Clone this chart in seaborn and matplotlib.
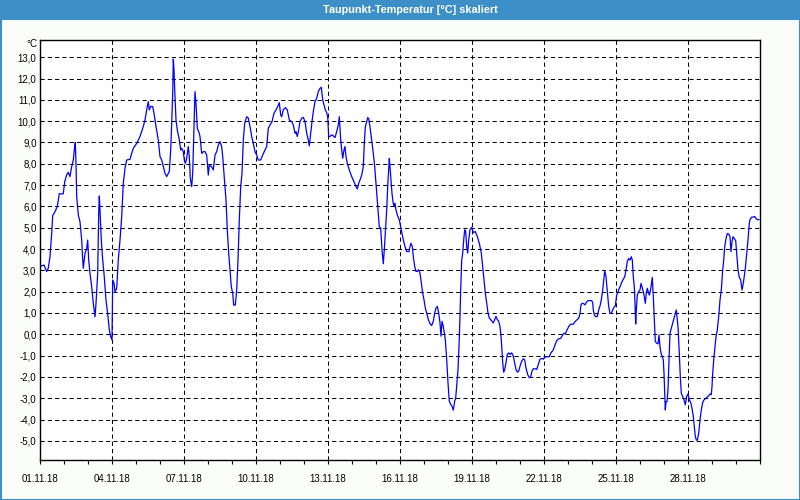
import numpy as np
import pandas as pd
import matplotlib
matplotlib.use("Agg")
import matplotlib.pyplot as plt
import matplotlib.dates as mdates
from matplotlib.patches import Rectangle
from matplotlib.ticker import FuncFormatter, FixedLocator
import seaborn as sns

title = "Taupunkt-Temperatur [°C] skaliert"
unit_label = "°C"
start_date = "2018-11-01 00:00"
end_date = "2018-12-01 00:00"
y_ticks = [-5, -4, -3, -2, -1, 0, 1, 2, 3, 4, 5, 6, 7, 8, 9, 10, 11, 12, 13]
label_days = [1, 4, 7, 10, 13, 16, 19, 22, 25, 28]

# hours since 01.11.18 00:00
hours = [
    1.0, 4.0, 6.7, 8.3, 10.0, 11.7, 12.7, 15.0, 17.3, 19.3, 21.7, 23.3, 24.7, 26.7, 28.3, 30.0,
    31.7, 33.3, 34.3, 35.3, 36.0, 36.7, 38.3, 40.0, 41.7, 42.7, 43.3, 45.0, 46.7, 47.7, 48.7,
    50.0, 51.7, 53.3, 55.0, 56.0, 57.7, 58.7, 59.3, 60.0, 61.3, 62.7, 64.0, 66.0, 68.0, 69.3,
    70.7, 72.0, 72.7, 74.0, 75.0, 76.7, 78.3, 80.0, 81.7, 83.3, 85.0, 86.7, 90.0, 91.7, 93.3,
    96.7, 100.0, 103.3, 105.0, 106.7, 108.3, 109.3, 110.7, 112.7, 114.0, 116.0, 118.3, 120.0,
    121.7, 123.3, 125.0, 126.7, 128.3, 129.3, 130.7, 131.7, 132.7, 133.3, 134.0, 134.7, 136.0,
    137.3, 139.3, 140.7, 141.7, 143.3, 144.3, 145.3, 146.7, 148.3, 149.3, 150.3, 151.7, 152.7,
    154.0, 155.0, 156.0, 157.3, 159.3,
    160.0, 161.7, 163.3, 165.0, 166.7, 168.3, 169.3, 171.7, 173.3, 175.0, 176.7, 178.3, 180.0,
    181.7, 182.7, 184.0, 186.0, 187.3, 188.7, 190.0, 191.3, 192.7, 193.7, 195.3, 196.7, 198.0,
    199.3, 200.7, 202.0, 203.3, 204.7, 206.7, 208.3, 210.0, 211.7, 213.3, 215.0, 216.7, 218.3,
    220.7, 222.7, 225.0, 226.7, 228.3, 230.0, 232.0, 234.0, 236.0, 237.7, 239.3, 240.7, 241.7,
    243.3, 245.3, 247.3, 249.3, 251.7, 253.3, 255.0, 256.0, 257.3, 258.7, 260.0, 261.7, 263.3,
    265.0, 266.7, 268.3, 269.3, 270.7, 272.0, 273.3, 275.0, 276.7, 278.3, 280.0, 281.3, 282.7,
    284.0, 285.3, 286.7, 287.7, 288.7, 290.0, 291.7, 293.3, 295.0, 296.7, 298.3, 299.3, 300.7,
    301.7, 302.7, 304.0, 305.0, 306.0, 307.3, 309.3, 311.7, 314.0, 316.0, 317.3, 318.7,
    320.0, 321.7, 323.3, 324.3, 325.3, 326.7, 327.7, 328.7, 330.0, 331.7, 333.3, 334.7, 336.0,
    337.3, 338.3, 339.3, 340.7, 342.0, 343.3, 344.3, 345.3, 346.7, 347.7, 348.7, 349.3, 350.0,
    351.0, 352.0, 353.0, 354.0, 355.0, 356.0, 357.3, 359.3, 360.7, 362.0, 363.3, 365.0, 366.7,
    369.0, 370.0, 371.0, 372.3, 373.3, 374.7, 376.0, 377.3, 378.7, 380.0, 381.3, 382.7, 384.0,
    385.3, 386.7, 388.3, 390.0, 391.7, 393.3, 394.7, 396.0, 397.3, 398.7, 400.0, 401.0, 402.0,
    403.3, 404.3, 405.3, 406.7, 408.0, 409.3, 410.7, 412.0, 413.3, 414.7, 415.7, 416.7, 418.0,
    419.0, 420.0, 420.7, 421.7, 422.7, 423.7, 424.7, 425.7, 426.7, 427.7, 428.7, 430.0, 431.7,
    433.3, 435.3, 437.3, 439.3, 441.3, 442.7, 444.0, 445.3, 446.7, 448.0, 449.3, 450.7, 452.0,
    453.3, 454.7, 456.0, 457.3, 458.7, 460.0, 461.3, 462.7, 463.7, 464.7, 466.0, 467.3, 468.7,
    470.0, 471.7, 473.3, 474.7, 476.0, 477.3, 478.7, 480.0, 481.7, 483.3, 484.7, 486.0, 487.7,
    489.3, 490.7, 492.0, 493.3, 495.3, 496.7, 498.3,
    500.0, 501.7, 503.3, 504.7, 506.7, 509.3, 510.7, 512.0, 513.3, 515.0, 516.7, 518.3, 520.7,
    522.7, 524.0, 525.3, 526.7, 528.7, 530.0, 531.7, 533.3, 535.0, 536.7, 538.7, 540.0, 541.0,
    542.0, 543.3, 545.0, 546.7, 548.3, 550.0, 551.7, 552.7, 553.3, 554.3, 555.7, 557.3, 558.7,
    560.0, 561.3, 562.7, 563.7, 564.7, 566.0, 567.3, 568.7, 570.0, 571.3, 572.7, 574.0, 575.3,
    576.7, 578.0, 579.3, 580.7, 582.0, 583.3, 584.7, 586.0, 587.3, 588.7, 590.0, 591.3, 592.3,
    593.3, 594.3, 595.0, 595.7, 596.3, 597.3, 598.7, 600.0, 601.0, 602.0, 603.3, 604.3, 605.3,
    606.3, 607.3, 608.3, 609.3, 610.3, 611.3, 612.3, 613.3, 614.3, 615.3, 616.7, 618.0, 619.0,
    620.0, 621.0, 622.3, 623.3, 624.0, 624.7, 625.3, 626.0, 627.0, 628.0, 629.0, 630.0, 631.3,
    632.7, 634.0, 635.3, 636.3, 637.0, 638.0, 639.3, 640.3, 641.3, 642.7, 644.0, 645.3, 646.7,
    648.0, 649.3, 650.7, 652.0, 653.3, 654.3, 655.3, 656.3, 657.3, 658.7, 660.0, 661.3, 662.7,
    664.0, 666.0, 668.0, 670.0, 671.3, 672.0, 672.7, 674.0, 675.0, 676.0, 677.3, 678.7, 680.0,
    681.3, 682.7, 683.7, 684.7, 686.0, 687.3, 688.7, 690.0, 691.0, 692.0, 693.0, 694.3, 695.7,
    696.7, 698.0, 699.3, 700.7, 702.0, 703.0, 704.0, 705.3, 706.7, 708.0, 709.3, 710.0, 711.7,
    713.3, 714.7, 716.0, 717.3, 719.0,
]

dewpoint = [
    3.2, 3.25, 2.94, 3.1, 3.65, 4.74, 5.57, 5.75, 6.0, 6.6, 6.58, 6.6, 7.16, 7.48, 7.6, 7.4,
    7.87, 8.18, 8.65, 9.0, 8.0, 6.46, 5.6, 5.28, 4.42, 3.5, 3.1, 3.8, 4.03, 4.42, 3.49,
    2.86, 2.23, 1.45, 0.82, 1.45, 2.86, 5.68, 6.49, 5.83, 4.42, 3.49, 2.86, 1.6, 0.82, 0.2,
    -0.11, -0.27, 2.55, 2.4, 2.0, 2.15, 3.49, 4.42, 5.52, 7.08, 7.79, 8.18, 8.21, 8.49, 8.73,
    8.96, 9.28, 9.75, 10.06, 10.53, 10.92, 10.53, 10.69, 10.69, 10.37, 9.75, 9.12, 8.34,
    8.18, 7.87, 7.55, 7.4, 7.55, 7.63, 8.65, 9.9, 11.31, 12.92, 12.4, 11.47, 10.06,
    9.59, 9.12, 8.65, 8.73, 8.57, 8.18, 8.02, 8.26, 8.81, 8.34, 7.32, 6.93, 7.55,
    9.75, 11.39, 10.84, 9.67, 9.43,
    9.28, 8.49, 8.57, 8.57, 8.41, 7.47, 7.94, 7.86, 7.71, 8.41, 8.57, 8.88, 9.04,
    8.81, 8.34, 7.55, 6.3, 4.89, 3.8, 3.02, 2.23, 1.92, 1.37, 1.37, 2.08, 3.49,
    5.36, 6.93, 7.55, 9.12, 9.9, 10.21, 10.14, 9.75, 9.28, 8.96, 8.57, 8.41, 8.18,
    8.18, 8.41, 8.65, 8.81, 9.67, 9.82, 9.98, 10.37, 10.53, 10.69, 10.87, 10.29, 10.21,
    10.53, 10.64, 10.53, 10.06, 9.98, 9.82, 9.43, 9.51, 9.28, 9.59, 9.98, 10.14, 10.18,
    9.98, 9.43, 9.12, 8.84, 9.43, 9.98, 10.45, 10.92, 11.08, 11.39, 11.54, 11.59, 11.0,
    10.76, 10.53, 10.4, 10.21, 9.28, 9.28, 9.36, 9.31, 9.23, 9.51, 9.82, 10.21, 9.12,
    8.65, 8.26, 8.65, 8.81, 8.34, 8.02, 7.71, 7.4, 7.16, 6.93, 6.82, 7.08,
    7.24, 7.47, 7.86, 8.95, 9.73, 9.97, 10.17, 10.12, 9.73, 9.11, 8.49, 7.86, 7.08,
    6.3, 5.68, 5.05, 4.98, 3.96, 3.31, 3.96, 4.74, 5.83, 6.93, 7.71, 8.25, 7.86,
    7.24, 6.61, 6.22, 5.99, 6.15, 5.83, 5.6, 5.37, 5.05, 4.74, 4.43, 4.12, 3.88,
    3.88, 4.12, 4.27, 4.12, 3.65, 3.18, 2.95, 2.95, 3.03, 2.87, 2.4, 1.93, 1.62,
    1.23, 1.0, 0.69, 0.5, 0.41, 0.61, 1.0, 1.23, 1.31, 1.0, 0.53, -0.09, 0.61,
    0.37, 0.05, -0.25, -1.19, -2.28, -3.14, -3.29, -3.37, -3.56, -3.14, -2.98, -2.43, -1.65,
    -0.56, 0.84, 2.09, 3.49, 3.81, 4.43, 4.9, 4.82, 4.12, 3.81, 4.43, 4.9, 5.02,
    4.77, 4.82, 4.59, 4.27, 3.81, 3.18, 2.56, 1.93, 1.47, 1.0, 0.76, 0.69, 0.61,
    0.53, 0.69, 0.84, 0.69, 0.61, 0.37, -0.25, -1.34, -1.78, -1.65, -1.34, -0.95, -0.87,
    -0.95, -0.87, -1.03, -1.34, -1.65, -1.78, -1.73, -1.5, -1.26, -1.15, -1.21, -1.58, -1.89,
    -2.04, -2.0, -1.73, -1.62, -1.62, -1.65, -1.42,
    -1.17, -1.13, -1.17, -1.08, -1.05, -1.05, -0.89, -0.81, -0.73, -0.5, -0.3, -0.22, -0.19,
    -0.03, 0.05, 0.02, 0.17, 0.36, 0.44, 0.48, 0.47, 0.59, 0.67, 0.75, 0.98, 1.38,
    1.45, 1.45, 1.38, 1.53, 1.58, 1.58, 1.58, 1.48, 1.14, 0.91, 0.83, 0.83, 1.14,
    1.33, 1.61, 2.08, 2.55, 2.98, 2.7, 2.0, 1.3, 0.98, 0.98, 1.14, 1.27, 1.33,
    1.84, 2.0, 2.16, 2.31, 2.47, 2.58, 2.7, 3.02, 3.41, 3.56, 3.48, 3.64, 3.48,
    2.7, 2.23, 1.45, 0.48, 1.14, 1.84, 2.0, 2.08, 2.39, 2.23, 2.0, 1.77, 1.45,
    1.92, 2.16, 2.0, 1.84, 2.0, 2.31, 2.67, 1.77, 0.67, -0.34, -0.42, -0.45, -0.03,
    -0.58, -0.89, -1.05, -1.2, -1.83, -2.77, -3.55, -3.16, -3.16, -2.61, -1.2, 0.05, 0.28,
    0.52, 0.75, 0.98, 1.14, 0.83, 0.36, -0.89, -1.98, -2.77, -2.92, -3.08, -3.31, -2.92,
    -2.8, -3.08, -3.2, -3.47, -3.86, -4.33, -4.8, -4.95, -4.98, -4.64, -4.02, -3.55, -3.2,
    -3.08, -3.0, -2.92, -2.8, -2.84, -2.45, -1.83, -1.05, -0.58, -0.11, 0.2, 0.83, 1.61,
    2.08, 3.02, 3.48, 4.11, 4.5, 4.73, 4.7, 4.58, 3.88, 4.34, 4.58, 4.5, 4.39,
    3.8, 3.02, 2.67, 2.55, 2.08, 2.31, 2.63, 3.09, 3.8, 4.42, 5.2, 5.38, 5.5,
    5.5, 5.53, 5.43, 5.38, 5.38,
]

df = pd.DataFrame({
    "time": pd.Timestamp(start_date) + pd.to_timedelta(hours, unit="h"),
    "dewpoint": dewpoint,
})

sns.set_style("white")
plt.rcParams["font.family"] = ["Liberation Sans", "DejaVu Sans"]

frame_blue = "#3d8fc7"
fig = plt.figure(figsize=(8, 5), dpi=100, facecolor="#fbfdfb")
ax = fig.add_axes([40 / 800, 40 / 500, 720 / 800, 420 / 500])
ax.set_facecolor("white")

sns.lineplot(data=df, x="time", y="dewpoint", ax=ax, color="#0000ff", lw=0.9)

ax.set_xlim(pd.Timestamp(start_date), pd.Timestamp(end_date))
ax.set_ylim(-5.9, 13.81)
ax.set_xlabel("")
ax.set_ylabel("")

major_dates = [mdates.date2num(pd.Timestamp(2018, 11, d)) for d in label_days]
minor_dates = [mdates.date2num(pd.Timestamp(2018, 11, 1) + pd.Timedelta(days=i)) for i in range(31)]
ax.yaxis.set_major_locator(FixedLocator(y_ticks))
ax.yaxis.set_major_formatter(FuncFormatter(lambda v, p: f"{v:.1f}".replace(".", ",")))
ax.xaxis.set_major_locator(FixedLocator(major_dates))
ax.xaxis.set_minor_locator(FixedLocator(minor_dates))
ax.xaxis.set_major_formatter(mdates.DateFormatter("%d.%m.%y"))

ax.tick_params(axis="y", length=0, pad=2.5, labelsize=7, colors="black")
ax.tick_params(axis="x", which="both", direction="out", length=3, width=0.8,
               color="black", bottom=True, pad=7, labelsize=7, labelcolor="black")

ax.grid(True, which="major", color="black", linestyle=(0, (4, 3)), linewidth=0.75)
for s in ax.spines.values():
    s.set_color("black")
    s.set_linewidth(1.0)
    s.set_visible(True)
ax.set_axisbelow(True)

fig.text(37 / 800, 1 - 44 / 500, unit_label, ha="right", va="center", fontsize=7, color="black")

# window frame: title bar and border
fig.patches.append(Rectangle((0, 1 - 20 / 500), 1, 20 / 500, transform=fig.transFigure,
                             facecolor=frame_blue, edgecolor="none", zorder=0))
fig.patches.append(Rectangle((0.5 / 800, 0.5 / 500), 799 / 800, 499 / 500, transform=fig.transFigure,
                             facecolor="none", edgecolor=frame_blue, linewidth=1.5, zorder=5))
fig.text(410 / 800, 1 - 10 / 500, title, ha="center", va="center", fontsize=7.8,
         fontweight="bold", color="white")

fig.savefig("out.png", dpi=100, facecolor=fig.get_facecolor())
